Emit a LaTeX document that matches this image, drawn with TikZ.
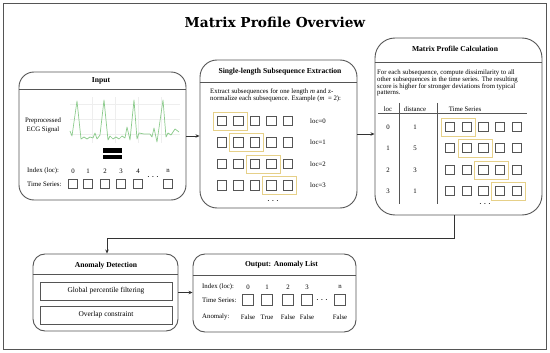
\documentclass[tikz,border=0pt]{standalone}
\usepackage{fontspec}
\setmainfont{Liberation Serif}
\newfontfamily\headfont{DejaVu Serif}
\usetikzlibrary{arrows.meta}
\definecolor{edge}{HTML}{555555}
\definecolor{ecg}{HTML}{8CCB8C}
\definecolor{pick}{HTML}{E6D088}
\definecolor{gridc}{HTML}{EEEEEE}
\begin{document}
\begin{tikzpicture}[x=1pt,y=-1pt,
    panel/.style={draw=edge, line width=0.9pt, inner sep=0pt},
    cell/.style={draw=edge, line width=0.8pt, minimum size=9.5pt, inner sep=0pt},
    win/.style={draw=pick, line width=0.8pt, minimum width=34pt, minimum height=18pt, inner sep=0pt},
    head/.style={font=\fontsize{7.6}{8}\selectfont\bfseries, inner sep=0pt},
    txt/.style={font=\fontsize{6.8}{7}\selectfont, inner sep=0pt},
    dots/.style={font=\fontsize{10}{10}\selectfont, inner sep=0pt},
    arr/.style={-{Stealth[length=4pt,width=3.5pt]}, line width=0.9pt, draw=black!80}]
    \useasboundingbox (0,0) rectangle (550,353);
    % Frame and title
    \draw[edge, line width=0.8pt] (3,3) rectangle (546,349);
    \node[font=\headfont\fontsize{13.7}{15}\selectfont\bfseries] (title) at (275,22) {Matrix Profile Overview};
    % Input
    \node[panel, rounded corners=15pt, minimum width=167pt, minimum height=128pt] (inp) at (102.5,136) {};
    \draw[edge, line width=0.9pt] (inp.west |- 0,89) -- (inp.east |- 0,89);
    \node[head] (inptitle) at (101,81) {Input};
    \foreach \gx in {92,115,138,161} \draw[gridc, line width=0.4pt] (\gx,97) -- (\gx,143);
    \foreach \gy in {104,119,134} \draw[gridc, line width=0.4pt] (70,\gy) -- (180,\gy);
    \draw[ecg, line width=0.7pt, line join=round] plot coordinates {(70,131) (72,136) (77,101) (81,139) (84,137) (87,139) (90,137) (93,138) (95,133) (97,139) (100,135) (104,100) (108,140) (110,136) (113,139) (116,137) (119,139) (122,136) (125,138) (127,127) (130,140) (134,100) (137,139) (139,133) (144,134) (150,134) (152,137) (154,128) (157,142) (163,100) (166,137) (168,133) (171,135) (175,129) (179,132)};
    \node[txt, font=\fontsize{6.8}{9}\selectfont, align=center] (ecglbl) at (43,125) {Preprocessed\\ECG Signal};
    \fill[black] (103,148) rectangle (122,153);
    \fill[black] (103,155) rectangle (122,159);
    \node[txt, anchor=west] (idxlbl) at (27,171) {Index (loc):};
    \node[txt, anchor=west] (tslbl) at (27,184) {Time Series:};
    \foreach \i/\x in {0/73,1/88,2/105,3/121,4/138,n/168} {
        \node[txt] (idx\i) at (\x,171) {\i};
        \node[cell] (ts\i) at (\x,184) {};
    }
    \node[dots] (tsdots) at (153,177) {$\cdots$};
    % Single-length Subsequence Extraction
    \node[panel, rounded corners=17pt, minimum width=157pt, minimum height=148pt] (single) at (278.5,134) {};
    \draw[edge, line width=0.9pt] (single.west |- 0,82) -- (single.east |- 0,82);
    \node[head] (singletitle) at (280,72) {Single-length Subsequence Extraction};
    \node[txt, anchor=north west, align=left] (singletxt) at (210,89) {Extract subsequences for one length \textit{m} and z-\\normalize each subsequence. Example (\textit{m}\ \ = 2):};
    \foreach \r/\y in {0/121,1/142.5,2/164,3/185.5} {
        \foreach \c/\x in {0/222,1/238.5,2/255,3/271.5,4/288}
            \node[cell] (e\r\c) at (\x,\y) {};
        \node[win] (ewin\r) at ({230.25+16.5*\r},\y) {};
        \node[txt] (eloc\r) at (318,\y) {loc=\r};
    }
    \node[dots] (edots) at (273,201) {$\cdots$};
    % Matrix Profile Calculation
    \node[panel, rounded corners=20pt, minimum width=167pt, minimum height=177pt] (mat) at (458.5,126.5) {};
    \draw[edge, line width=0.9pt] (mat.west |- 0,62) -- (mat.east |- 0,62);
    \node[head] (mattitle) at (455,49) {Matrix Profile Calculation};
    \node[txt, font=\fontsize{6.8}{6.6}\selectfont, anchor=north west, align=left] (mattxt) at (377,70) {For each subsequence, compute dissimilarity to all\\other subsequences in the time series. The resulting\\score is higher for stronger deviations from typical\\patterns.};
    \node[txt] (hloc) at (388,109) {loc};
    \node[txt] (hdist) at (415,109) {distance};
    \node[txt] (hts) at (465,109) {Time Series};
    \draw[edge, line width=0.8pt] (378,113) -- (527,113);
    \draw[edge, line width=0.8pt] (399,103) -- (399,204);
    \draw[edge, line width=0.8pt] (437,103) -- (437,204);
    \foreach \r/\y/\d in {0/127/1,1/148/5,2/170/3,3/191/1} {
        \node[txt] (mloc\r) at (388,\y) {\r};
        \node[txt] (mdist\r) at (415,\y) {\d};
        \foreach \c/\x in {0/450,1/466.7,2/483.3,3/500,4/516.7}
            \node[cell] (m\r\c) at (\x,\y) {};
        \node[win] (mwin\r) at ({458.3+16.7*\r},\y) {};
    }
    \node[dots] (mdots) at (485,204) {$\cdots$};
    % Anomaly Detection
    \node[panel, rounded corners=12pt, minimum width=145pt, minimum height=77pt] (anom) at (105.5,292.5) {};
    \draw[edge, line width=0.9pt] (anom.west |- 0,274) -- (anom.east |- 0,274);
    \node[head] (anomtitle) at (106,266) {Anomaly Detection};
    \node[draw=edge, line width=0.8pt, minimum width=132pt, minimum height=18pt, font=\fontsize{7.4}{8}\selectfont] (filt) at (106,291) {Global percentile filtering};
    \node[draw=edge, line width=0.8pt, minimum width=132pt, minimum height=18pt, font=\fontsize{7.4}{8}\selectfont] (ovl) at (106,315) {Overlap constraint};
    % Output: Anomaly List
    \node[panel, rounded corners=12pt, minimum width=163pt, minimum height=78pt] (out) at (274.5,293) {};
    \draw[edge, line width=0.9pt] (out.west |- 0,275) -- (out.east |- 0,275);
    \node[head] (outtitle) at (281.5,265) {Output: Anomaly List};
    \node[txt, anchor=west] (oidxlbl) at (202,287) {Index (loc):};
    \node[txt, anchor=west] (otslbl) at (202,300) {Time Series:};
    \node[txt, anchor=west] (oanlbl) at (202,317) {Anomaly:};
    \foreach \i/\x/\v in {0/248/False,1/267/True,2/288/False,3/307/False,n/340/False} {
        \node[txt] (oidx\i) at (\x,287) {\i};
        \node[cell, minimum size=10.5pt] (ots\i) at (\x,300) {};
        \node[txt] (oval\i) at (\x,317) {\v};
    }
    \node[dots] (odots) at (322,300) {$\cdots$};
    % Connectors
    \draw[arr] (inp.east) -- (inp.east -| single.west);
    \draw[arr] (single.east) -- (single.east -| mat.west);
    \draw[arr] ([xshift=-4pt]mat.south) -- ++(0,23) -| ([xshift=1.5pt]anom.north);
    \draw[arr] (anom.east) -- (anom.east -| out.west);
\end{tikzpicture}
\end{document}
